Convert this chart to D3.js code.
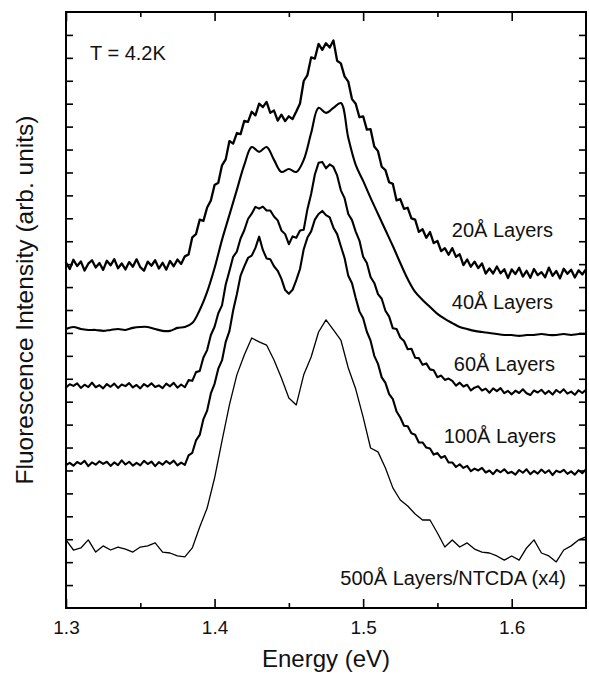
<!DOCTYPE html>
<html><head><meta charset="utf-8">
<script src="https://cdn.jsdelivr.net/npm/d3@7"></script>
<style>
body{margin:0;background:#fff}
svg{display:block}
text{font-family:"Liberation Sans",Arial,Helvetica,sans-serif;fill:#111}
</style>
</head><body><svg id="c" width="589" height="675"></svg>
<script>
// Photon energy grid (eV) for the smooth spectra
const energy=[1.300,1.305,1.310,1.315,1.320,1.325,1.330,1.335,1.340,1.345,1.350,1.355,1.360,1.365,1.370,1.375,1.380,1.385,1.390,1.395,1.400,1.405,1.410,1.415,1.420,1.425,1.430,1.435,1.440,1.445,1.450,1.455,1.460,1.465,1.470,1.475,1.480,1.485,1.490,1.495,1.500,1.505,1.510,1.515,1.520,1.525,1.530,1.535,1.540,1.545,1.550,1.555,1.560,1.565,1.570,1.575,1.580,1.585,1.590,1.595,1.600,1.605,1.610,1.615,1.620,1.625,1.630,1.635,1.640,1.645,1.650];
// Finer energy grid (eV) for the noisy spectra
const energyFine=[1.3000,1.3025,1.3050,1.3075,1.3100,1.3125,1.3150,1.3175,1.3200,1.3225,
1.3250,1.3275,1.3300,1.3325,1.3350,1.3375,1.3400,1.3425,1.3450,1.3475,
1.3500,1.3525,1.3550,1.3575,1.3600,1.3625,1.3650,1.3675,1.3700,1.3725,
1.3750,1.3775,1.3800,1.3825,1.3850,1.3875,1.3900,1.3925,1.3950,1.3975,
1.4000,1.4025,1.4050,1.4075,1.4100,1.4125,1.4150,1.4175,1.4200,1.4225,
1.4250,1.4275,1.4300,1.4325,1.4350,1.4375,1.4400,1.4425,1.4450,1.4475,
1.4500,1.4525,1.4550,1.4575,1.4600,1.4625,1.4650,1.4675,1.4700,1.4725,
1.4750,1.4775,1.4800,1.4825,1.4850,1.4875,1.4900,1.4925,1.4950,1.4975,
1.5000,1.5025,1.5050,1.5075,1.5100,1.5125,1.5150,1.5175,1.5200,1.5225,
1.5250,1.5275,1.5300,1.5325,1.5350,1.5375,1.5400,1.5425,1.5450,1.5475,
1.5500,1.5525,1.5550,1.5575,1.5600,1.5625,1.5650,1.5675,1.5700,1.5725,
1.5750,1.5775,1.5800,1.5825,1.5850,1.5875,1.5900,1.5925,1.5950,1.5975,
1.6000,1.6025,1.6050,1.6075,1.6100,1.6125,1.6150,1.6175,1.6200,1.6225,
1.6250,1.6275,1.6300,1.6325,1.6350,1.6375,1.6400,1.6425,1.6450,1.6475,
1.6500];
// Fluorescence intensity (arb. units, spectra offset vertically)
const int20=[15.07,14.79,15.19,14.92,15.12,14.72,15.02,15.17,14.85,15.05,
14.75,15.15,14.95,15.22,14.82,15.03,14.77,15.09,14.89,15.21,
14.87,14.71,15.11,14.93,15.17,14.81,15.06,14.76,15.14,14.91,
15.20,15.01,15.34,15.42,16.17,16.31,16.94,16.89,17.47,17.78,
18.45,18.55,19.31,19.57,20.37,20.26,20.72,20.67,21.25,21.21,
21.65,21.49,22.00,21.85,22.08,21.60,21.70,21.26,21.52,21.24,
21.45,21.33,21.66,22.01,22.99,23.25,24.02,23.97,24.61,24.35,
24.64,24.45,24.76,23.87,23.76,23.19,22.96,22.20,22.00,21.41,
21.45,20.87,20.89,20.13,19.93,19.25,19.10,18.57,18.50,17.78,
17.84,17.41,17.46,17.00,16.94,16.41,16.52,16.15,16.40,15.92,
16.01,15.57,15.70,15.41,15.70,15.32,15.43,14.96,15.20,14.89,
15.11,14.83,15.03,14.59,14.81,14.59,14.90,14.60,14.78,14.39,
14.77,14.57,14.84,14.46,14.71,14.41,14.79,14.52,14.65,14.43,
14.85,14.49,14.70,14.38,14.80,14.58,14.76,14.42,14.73,14.55,
14.78];
const int40=[12.17,12.26,12.17,12.13,12.13,12.09,12.13,12.17,12.13,12.22,
12.26,12.26,12.17,12.09,12.09,12.22,12.26,12.43,13.00,13.79,
14.83,16.06,17.15,18.24,19.33,20.11,19.90,20.11,19.55,19.02,
19.15,19.02,19.55,20.72,21.82,21.60,21.82,22.03,20.51,19.33,
18.63,17.89,17.19,16.49,15.79,15.05,14.35,13.79,13.44,13.13,
12.83,12.61,12.43,12.26,12.17,12.09,12.04,12.00,11.95,11.91,
11.91,11.87,11.91,11.91,11.95,11.91,11.91,11.95,11.91,11.95,
11.95];
const int60=[9.62,9.76,9.69,9.80,9.60,9.74,9.64,9.83,9.63,9.72,
9.58,9.77,9.65,9.79,9.60,9.75,9.68,9.81,9.62,9.73,
9.58,9.77,9.66,9.80,9.64,9.71,9.59,9.79,9.67,9.82,
9.61,9.75,9.63,9.94,9.91,10.29,10.34,10.93,11.25,11.91,
12.27,12.86,13.20,14.11,14.70,15.32,15.55,16.12,16.48,16.97,
17.20,17.50,17.42,17.51,17.34,17.34,17.08,16.91,16.47,16.31,
15.87,16.21,16.15,16.47,16.50,17.40,18.06,18.91,19.42,19.46,
19.18,19.35,19.24,18.87,18.22,17.88,17.19,16.92,16.42,16.03,
15.32,15.05,14.44,14.18,13.69,13.49,12.97,12.71,12.20,12.17,
11.80,11.65,11.29,11.31,10.92,10.90,10.61,10.67,10.41,10.37,
10.07,10.14,9.95,10.01,9.91,9.70,9.83,9.66,9.74,9.49,
9.61,9.67,9.49,9.57,9.39,9.58,9.46,9.59,9.37,9.47,
9.32,9.48,9.38,9.54,9.37,9.29,9.49,9.40,9.52,9.34,
9.47,9.31,9.51,9.39,9.54,9.35,9.44,9.30,9.50,9.38,
9.52];
const int100=[6.24,6.33,6.21,6.37,6.28,6.42,6.19,6.35,6.25,6.40,
6.29,6.38,6.20,6.35,6.23,6.44,6.26,6.38,6.21,6.33,
6.22,6.42,6.28,6.39,6.19,6.36,6.25,6.41,6.29,6.43,
6.22,6.34,6.24,6.66,6.77,7.31,7.55,8.24,8.61,9.36,
9.78,10.44,10.80,11.61,12.08,12.98,13.69,14.50,14.90,15.27,
15.37,15.71,16.20,15.62,15.25,15.21,14.91,14.71,14.36,13.87,
13.71,13.88,14.30,14.79,15.65,16.16,16.43,16.94,17.19,17.32,
17.14,17.04,16.59,16.31,15.78,15.27,14.49,14.17,13.52,12.94,
12.64,12.05,11.66,11.00,10.65,10.06,9.82,9.33,9.11,8.57,
8.31,7.95,7.93,7.62,7.56,7.22,7.22,7.00,6.96,6.69,
6.76,6.55,6.63,6.35,6.35,6.15,6.27,6.11,6.20,5.97,
6.08,6.00,6.11,5.91,6.00,5.84,6.03,5.92,6.05,5.88,
5.94,5.82,6.02,5.90,6.05,5.84,5.98,5.86,6.04,5.89,
6.01,5.80,5.99,5.92,6.03,5.85,5.96,5.82,6.01,5.88,
6.06];
const int500=[2.97,2.53,2.62,2.97,2.44,2.71,2.53,2.66,2.57,2.44,
2.66,2.71,2.84,2.44,2.40,2.27,2.23,2.62,3.53,4.36,
5.67,7.29,8.86,10.17,11.04,11.78,11.61,11.47,10.82,10.03,
9.16,8.86,10.17,10.95,12.04,12.57,12.13,11.69,10.47,9.55,
8.33,6.98,6.81,6.11,5.24,4.71,4.45,4.10,3.84,3.84,
3.27,2.66,2.97,2.66,2.84,2.57,2.44,2.40,2.27,2.09,
2.27,2.09,2.62,2.97,2.40,2.27,2.01,2.53,2.71,2.97,
3.10];
const seriesLabels=["20Å Layers","40Å Layers","60Å Layers","100Å Layers","500Å Layers/NTCDA (x4)"];
const xMajorTicks=[1.3,1.4,1.5,1.6];
const xMinorTicks=[1.35,1.45,1.55];
const yTicks=[1,2,3,4,5,6,7,8,9,10,11,12,13,14,15,16,17,18,19,20,21,22,23,24,25];

const svg=d3.select("#c");
const L=66,R=586,T=12,B=608;
const x=d3.scaleLinear().domain([1.3,1.65]).range([L,R]);
const y=d3.scaleLinear().domain([0,26]).range([B,T]);

function styleAxis(g){g.select(".domain").remove();g.selectAll(".tick line").attr("stroke","#000").attr("stroke-width",1.6);}

const gb=svg.append("g").attr("transform",`translate(0,${B})`)
  .call(d3.axisBottom(x).tickValues(xMajorTicks).tickSize(-9).tickFormat(d3.format(".1f")));
styleAxis(gb);
gb.selectAll("text").attr("y",26).attr("dy",0).attr("font-size",19).attr("fill","#111")
  .style("font-family","'Liberation Sans',Arial,sans-serif");
const gbm=svg.append("g").attr("transform",`translate(0,${B})`)
  .call(d3.axisBottom(x).tickValues(xMinorTicks).tickSize(-5).tickFormat(""));
styleAxis(gbm);
const gt=svg.append("g").attr("transform",`translate(0,${T})`)
  .call(d3.axisTop(x).tickValues(xMajorTicks).tickSize(-9).tickFormat(""));
styleAxis(gt);
const gtm=svg.append("g").attr("transform",`translate(0,${T})`)
  .call(d3.axisTop(x).tickValues(xMinorTicks).tickSize(-5).tickFormat(""));
styleAxis(gtm);
const gl=svg.append("g").attr("transform",`translate(${L},0)`)
  .call(d3.axisLeft(y).tickValues(yTicks).tickSize(-7).tickFormat(""));
styleAxis(gl);
const gr=svg.append("g").attr("transform",`translate(${R},0)`)
  .call(d3.axisRight(y).tickValues(yTicks).tickSize(-7).tickFormat(""));
styleAxis(gr);

svg.append("rect").attr("x",L).attr("y",T).attr("width",R-L).attr("height",B-T)
  .attr("fill","none").attr("stroke","#000").attr("stroke-width",2);

const series=[
  {e:energyFine,v:int20,w:2.3,c:d3.curveLinear},
  {e:energy,v:int40,w:2.1,c:d3.curveCatmullRom},
  {e:energyFine,v:int60,w:2.1,c:d3.curveLinear},
  {e:energyFine,v:int100,w:2.1,c:d3.curveLinear},
  {e:energy,v:int500,w:1.3,c:d3.curveLinear}
];
series.forEach(s=>{
  const line=d3.line().x((d,i)=>x(s.e[i])).y(d=>y(d)).curve(s.c);
  svg.append("path").attr("d",line(s.v)).attr("fill","none").attr("stroke","#000")
    .attr("stroke-width",s.w).attr("stroke-linejoin","round").attr("stroke-linecap","round");
});

const labelPos=[[553,237],[553,309],[555,371],[556,443],[566,585]];
seriesLabels.forEach((t,i)=>{
  svg.append("text").attr("x",labelPos[i][0]).attr("y",labelPos[i][1])
    .attr("text-anchor","end").attr("font-size",20).text(t);
});

svg.append("text").attr("x",90).attr("y",60).attr("font-size",20).text("T = 4.2K");

svg.append("text").attr("x",(L+R)/2).attr("y",667).attr("text-anchor","middle")
  .attr("font-size",24).text("Energy (eV)");
svg.append("text").attr("transform","translate(33,300) rotate(-90)").attr("text-anchor","middle")
  .attr("font-size",24.5).text("Fluorescence Intensity (arb. units)");
</script>
</body></html>
